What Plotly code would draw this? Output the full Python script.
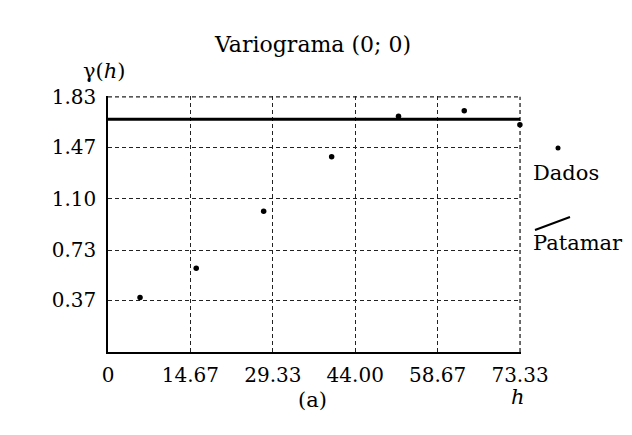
import plotly.graph_objects as go

# Data
lags = [5.7, 15.7, 27.7, 39.8, 51.7, 63.4, 73.3]
gamma = [0.39, 0.60, 1.01, 1.40, 1.69, 1.73, 1.63]
sill_x = [0, 73.33]
sill_y = [1.67, 1.67]
x_ticks = [0, 14.67, 29.33, 44.00, 58.67, 73.33]
x_tick_labels = ["0", "14.67", "29.33", "44.00", "58.67", "73.33"]
y_ticks = [0.37, 0.73, 1.10, 1.47, 1.83]
y_tick_labels = ["0.37", "0.73", "1.10", "1.47", "1.83"]

FONT = "DejaVu Serif"
W, H = 632, 435
L, R, T, B = 108, 111, 96, 83
PW, PH = W - L - R, H - T - B
GRID_COLOR, GRID_W, GRID_DASH = "#222", 1.3, "4px,3px"


def px(x):
    return (x - L) / PW


def py(y):
    return (H - B - y) / PH


fig = go.Figure()
fig.add_trace(go.Scatter(x=sill_x, y=sill_y, mode="lines",
                         line=dict(color="black", width=3), showlegend=False, name="Patamar"))
fig.add_trace(go.Scatter(x=lags, y=gamma, mode="markers",
                         marker=dict(color="black", size=5.5), showlegend=False, name="Dados",
                         cliponaxis=False))

grid = dict(showgrid=True, gridcolor=GRID_COLOR, gridwidth=GRID_W, griddash=GRID_DASH,
            showline=True, linecolor="black", linewidth=1.5, zeroline=False,
            ticks="", tickfont=dict(family=FONT, size=20, color="black"))

fig.update_xaxes(range=[0, 73.5], tickvals=x_ticks, ticktext=x_tick_labels,
                 ticklabelstandoff=4, **grid)
fig.update_yaxes(range=[0, 1.836], tickvals=y_ticks, ticktext=y_tick_labels,
                 ticklabelstandoff=6, **grid)

ann = []
ann.append(dict(text="Variograma (0; 0)", x=px(312), y=py(44), font=dict(size=22)))
ann.append(dict(text="γ(<i>h</i>)", x=px(104), y=py(71), font=dict(size=21)))
ann.append(dict(text="(a)", x=px(312), y=py(400), font=dict(size=21)))
ann.append(dict(text="<i>h</i>", x=px(518), y=py(397), font=dict(size=21)))
ann.append(dict(text="Dados", x=px(531), y=py(173), xanchor="left", font=dict(size=21)))
ann.append(dict(text="Patamar", x=px(531), y=py(243), xanchor="left", font=dict(size=21)))
for a in ann:
    a.setdefault("xanchor", "center")
    a.update(xref="paper", yref="paper", yanchor="middle", showarrow=False)
    a["font"].update(family=FONT, color="black")

gline = dict(color=GRID_COLOR, width=GRID_W, dash=GRID_DASH)
shapes = [
    # edge grid lines (plotly drops grid lines lying on the plot border)
    dict(type="line", xref="x", yref="y", layer="below",
         x0=x_ticks[0], x1=x_ticks[-1], y0=y_ticks[-1], y1=y_ticks[-1], line=gline),
    dict(type="line", xref="x", yref="y", layer="below",
         x0=x_ticks[-1], x1=x_ticks[-1], y0=0, y1=y_ticks[-1], line=gline),
    # legend glyphs
    dict(type="circle", xref="paper", yref="paper",
         x0=px(555.5), x1=px(560.5), y0=py(150.5), y1=py(145.5),
         fillcolor="black", line=dict(width=0)),
    dict(type="line", xref="paper", yref="paper",
         x0=px(535), y0=py(230), x1=px(570), y1=py(217),
         line=dict(color="black", width=2)),
]

fig.update_layout(width=W, height=H, margin=dict(l=L, r=R, t=T, b=B),
                  plot_bgcolor="white", paper_bgcolor="white",
                  annotations=ann, shapes=shapes, showlegend=False)

fig.write_html("out.html")
